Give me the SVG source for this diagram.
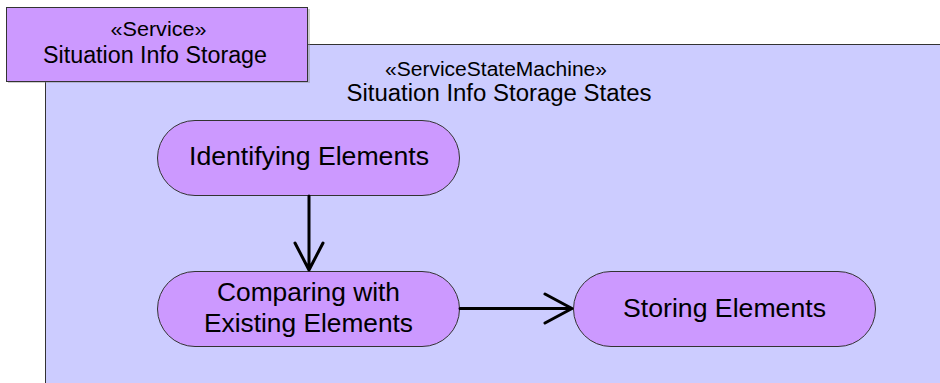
<svg xmlns="http://www.w3.org/2000/svg" width="940" height="383" viewBox="0 0 940 383">
<style>
.t{font-family:"Liberation Sans",Arial,sans-serif;fill:#000;text-anchor:middle}
.st{fill:#CC99FF;stroke:#333;stroke-width:1}
.cn{fill:none;stroke:#000;stroke-width:3;stroke-linecap:round;stroke-linejoin:round}
</style>
<rect width="940" height="383" fill="#fff"/>
<g id="frame">
<rect x="45.5" y="44.5" width="900" height="350" fill="#CCCCFF" stroke="#333" stroke-width="1"/>
<text class="t" x="496" y="76" font-size="19.5" textLength="222" lengthAdjust="spacingAndGlyphs">«ServiceStateMachine»</text>
<text class="t" x="499" y="101" font-size="23" textLength="305" lengthAdjust="spacingAndGlyphs">Situation Info Storage States</text>
</g>
<g id="service">
<rect x="8" y="9" width="302" height="74" fill="#888" opacity="0.4"/>
<rect x="6.5" y="7.5" width="301" height="74" fill="#CC99FF" stroke="#333" stroke-width="1"/>
<text class="t" x="158.5" y="35.7" font-size="19.5" textLength="96" lengthAdjust="spacingAndGlyphs">«Service»</text>
<text class="t" x="155" y="63" font-size="23" textLength="224" lengthAdjust="spacingAndGlyphs">Situation Info Storage</text>
</g>
<g id="identifying">
<rect class="st" x="157.5" y="120.5" width="302" height="75" rx="37.5" ry="37.5"/>
<text class="t" x="309" y="165" font-size="26.5" textLength="240" lengthAdjust="spacingAndGlyphs">Identifying Elements</text>
</g>
<g id="comparing">
<rect class="st" x="157.5" y="271.5" width="302" height="75" rx="37.5" ry="37.5"/>
<text class="t" x="308.5" y="301" font-size="26.5" textLength="183" lengthAdjust="spacingAndGlyphs">Comparing with</text>
<text class="t" x="308.5" y="332" font-size="26.5" textLength="209" lengthAdjust="spacingAndGlyphs">Existing Elements</text>
</g>
<g id="storing">
<rect class="st" x="573.5" y="271.5" width="302" height="75" rx="37.5" ry="37.5"/>
<text class="t" x="724.5" y="317" font-size="26.5" textLength="203" lengthAdjust="spacingAndGlyphs">Storing Elements</text>
</g>
<g id="connectors">
<path class="cn" d="M309 196 L309 270 M295 243 L309 270 L323 243"/>
<path class="cn" d="M460 308.5 L572 308.5 M545 294 L572 308.5 L545 323"/>
</g>
</svg>
